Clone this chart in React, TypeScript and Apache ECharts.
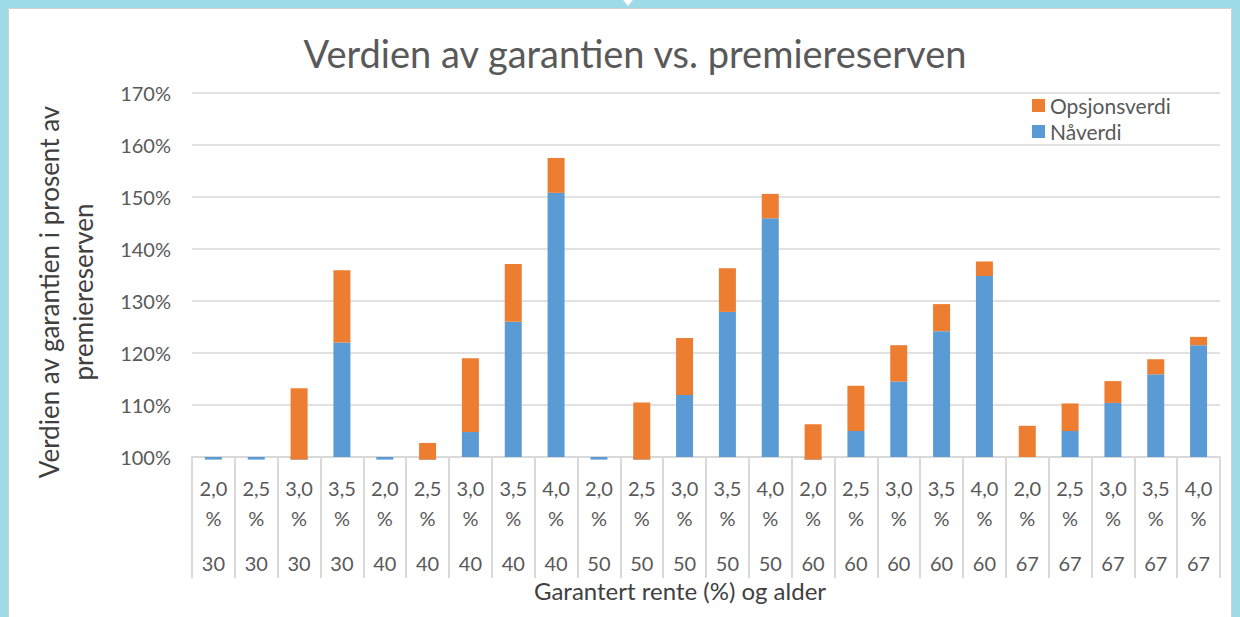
import React, { useEffect, useRef } from "react";
import * as echarts from "echarts";

const rates = ["2,0", "2,5", "3,0", "3,5", "2,0", "2,5", "3,0", "3,5", "4,0", "2,0", "2,5", "3,0", "3,5", "4,0", "2,0", "2,5", "3,0", "3,5", "4,0", "2,0", "2,5", "3,0", "3,5", "4,0"];
const ages = ["30", "30", "30", "30", "40", "40", "40", "40", "40", "50", "50", "50", "50", "50", "60", "60", "60", "60", "60", "67", "67", "67", "67", "67"];
// Nåverdi in % of premiereserven
const naverdi = [99.5, 99.5, 99.5, 122.0, 99.5, 99.5, 104.8, 126.0, 150.8, 99.5, 99.5, 111.9, 127.9, 145.9, 99.5, 105.0, 114.5, 124.2, 134.8, 100.0, 105.0, 110.4, 115.9, 121.5];
// Opsjonsverdi in percentage points (stacked on top of nåverdi)
const opsjonsverdi = [0, 0, 13.7, 13.9, 0, 3.2, 14.2, 11.1, 6.7, 0, 11.0, 11.0, 8.4, 4.7, 6.8, 8.7, 7.0, 5.2, 2.8, 6.0, 5.3, 4.2, 2.9, 1.6];
const yTicks = [100, 110, 120, 130, 140, 150, 160, 170];

const BASE = 100;
const FONT = "Lato, 'Open Sans', sans-serif";
const BLUE = "#5b9bd5";
const ORANGE = "#ed7d31";
const CYAN = "#9edbe6";

export default function App() {
  const ref = useRef<HTMLDivElement>(null);
  useEffect(() => {
    document.body.style.margin = "0";
    const chart = echarts.init(ref.current!, null, { renderer: "svg" });
    const cats = rates.map((r, i) => `${r}|${ages[i]}`);
    chart.setOption({
      animation: false,
      backgroundColor: "#ffffff",
      textStyle: { fontFamily: FONT },
      title: {
        text: "Verdien av garantien vs. premiereserven",
        left: 630,
        top: 29,
        textAlign: "center",
        textStyle: { fontFamily: FONT, fontSize: 38, fontWeight: "normal", color: "#595959" },
      },
      legend: {
        data: ["Opsjonsverdi", "Nåverdi"],
        orient: "vertical",
        left: 1027,
        top: 90,
        itemWidth: 13,
        itemHeight: 13,
        itemGap: 5,
        icon: "rect",
        textStyle: { fontFamily: FONT, fontSize: 21, color: "#595959", lineHeight: 21 },
      },
      grid: { left: 192, right: 20, top: 93, bottom: 160, containLabel: false },
      xAxis: {
        type: "category",
        data: cats,
        axisLine: { lineStyle: { color: "#d9d9d9", width: 2 } },
        axisTick: { show: true, interval: 0, length: 121, lineStyle: { color: "#d9d9d9", width: 2 } },
        axisLabel: {
          interval: 0,
          margin: 16,
          formatter: (v: string) => {
            const [r, a] = v.split("|");
            return `{a|${r}}\n{a|%}\n{b|${a}}`;
          },
          rich: {
            a: { fontFamily: FONT, fontSize: 20, color: "#595959", lineHeight: 30 },
            b: { fontFamily: FONT, fontSize: 20, color: "#595959", lineHeight: 60 },
          },
        },
        splitLine: { show: false },
      },
      yAxis: {
        type: "value",
        min: yTicks[0] - BASE,
        max: yTicks[yTicks.length - 1] - BASE,
        interval: 10,
        axisLine: { show: false },
        axisTick: { show: false },
        axisLabel: {
          margin: 21,
          fontFamily: FONT,
          fontSize: 20,
          color: "#595959",
          formatter: (v: number) => `${Math.round(v + BASE)}%`,
        },
        splitLine: { lineStyle: { color: "#d9d9d9", width: 1.5 } },
      },
      series: [
        {
          name: "Nåverdi",
          type: "bar",
          stack: "total",
          stackStrategy: "all",
          clip: false,
          barWidth: 17,
          itemStyle: { color: BLUE },
          data: naverdi.map((v) => +(v - BASE).toFixed(2)),
        },
        {
          name: "Opsjonsverdi",
          type: "bar",
          stack: "total",
          stackStrategy: "all",
          clip: false,
          barWidth: 17,
          itemStyle: { color: ORANGE },
          data: opsjonsverdi,
        },
      ],
      graphic: [
        { type: "rect", silent: true, shape: { x: 0, y: 0, width: 1240, height: 8 }, style: { fill: CYAN } },
        { type: "rect", silent: true, shape: { x: 0, y: 0, width: 8, height: 617 }, style: { fill: CYAN } },
        { type: "rect", silent: true, shape: { x: 1232, y: 0, width: 8, height: 617 }, style: { fill: CYAN } },
        { type: "polygon", silent: true, shape: { points: [[623, 0], [633, 0], [628, 6]] }, style: { fill: "#ffffff" } },
        { type: "rect", silent: true, shape: { x: 8.5, y: 8.5, width: 1223, height: 620 }, style: { fill: "none", stroke: "#d0d0d0", lineWidth: 1 } },
        {
          type: "text",
          x: 66,
          y: 292,
          rotation: Math.PI / 2,
          style: {
            text: "Verdien av garantien i prosent av\npremiereserven",
            fontFamily: FONT,
            fontSize: 26,
            lineHeight: 34,
            fill: "#404040",
            align: "center",
            verticalAlign: "middle",
          },
        },
        {
          type: "text",
          x: 680,
          y: 590,
          style: {
            text: "Garantert rente (%) og alder",
            fontFamily: FONT,
            fontSize: 24,
            fill: "#404040",
            align: "center",
            verticalAlign: "middle",
          },
        },
      ],
    });
    return () => chart.dispose();
  }, []);
  return <div ref={ref} style={{ width: 1240, height: 617 }} />;
}
